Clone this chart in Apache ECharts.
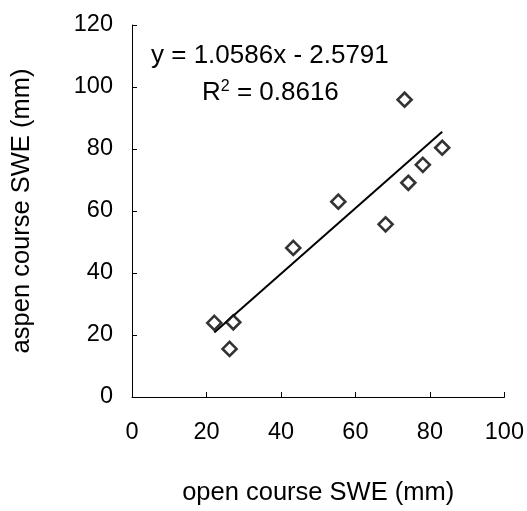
<!DOCTYPE html>
<html>
<head>
<meta charset="utf-8">
<script src="https://cdn.jsdelivr.net/npm/echarts@6/dist/echarts.min.js"></script>
<style>html,body{margin:0;padding:0;background:#fff}#c{width:527px;height:511px}</style>
</head>
<body>
<div id="c"></div>
<script>
const openSWE = [22.1, 27.2, 26.2, 43.3, 55.4, 68.1, 73.2, 74.2, 78.1, 83.3];
const aspenSWE = [23.9, 24.1, 15.5, 48.1, 63.0, 55.7, 95.9, 69.1, 74.9, 80.4];
const slope = 1.0586;
const intercept = -2.5791;
const equationText = 'y = 1.0586x - 2.5791';
const r2Value = '0.8616';
const xAxisName = 'open course SWE (mm)';
const yAxisName = 'aspen course SWE (mm)';

const points = openSWE.map((x, i) => [x, aspenSWE[i]]);
const xMin = Math.min(...openSWE), xMax = Math.max(...openSWE);
const trend = [[xMin, slope * xMin + intercept], [xMax, slope * xMax + intercept]];

const FONT = 'Liberation Sans, Arial, sans-serif';
const chart = echarts.init(document.getElementById('c'));
chart.setOption({
  animation: false,
  backgroundColor: '#fff',
  grid: {left: 132, right: 21, top: 25, bottom: 113, containLabel: false},
  xAxis: {
    type: 'value', min: 0, max: 100, interval: 20,
    name: xAxisName, nameLocation: 'middle', nameGap: 83,
    nameTextStyle: {fontFamily: FONT, fontSize: 25.5, color: '#000'},
    axisLine: {show: true, lineStyle: {color: '#000', width: 1}},
    axisTick: {show: true, inside: true, length: 5, lineStyle: {color: '#000'}},
    axisLabel: {fontFamily: FONT, fontSize: 23.5, color: '#000', margin: 24},
    splitLine: {show: false}
  },
  yAxis: {
    type: 'value', min: 0, max: 120, interval: 20,
    name: yAxisName, nameLocation: 'middle', nameGap: 97,
    nameTextStyle: {fontFamily: FONT, fontSize: 25.5, color: '#000'},
    axisLine: {show: true, lineStyle: {color: '#000', width: 1}},
    axisTick: {show: true, inside: true, length: 5, lineStyle: {color: '#000'}},
    axisLabel: {fontFamily: FONT, fontSize: 23.5, color: '#000', margin: 19},
    splitLine: {show: false}
  },
  series: [
    {
      type: 'line', data: trend, symbol: 'none', silent: true,
      lineStyle: {color: '#000', width: 2}, z: 1
    },
    {
      type: 'scatter', data: points, symbol: 'diamond', symbolSize: 14,
      itemStyle: {color: '#fff', borderColor: '#000', borderWidth: 2.6}, z: 2
    }
  ],
  graphic: [
    {type: 'text', left: 151, top: 43, style: {text: equationText, font: '26px ' + FONT, fill: '#000'}},
    {type: 'text', left: 202, top: 79, style: {
      text: '{b|R}{s|2}{b| = ' + r2Value + '}',
      rich: {
        b: {font: '26px ' + FONT, fill: '#000', verticalAlign: 'bottom'},
        s: {font: '16px ' + FONT, fill: '#000', verticalAlign: 'top', padding: [0, 0, 11, 0]}
      }
    }}
  ]
});
</script>
</body>
</html>
